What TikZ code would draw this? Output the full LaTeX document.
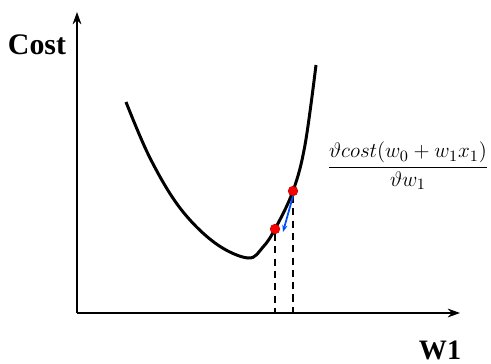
\documentclass[tikz,border=0pt]{standalone}
\usepackage{amsmath}
\usepackage{fontspec}
\setmainfont{Liberation Serif}
\usepackage{tikz}
\usetikzlibrary{arrows.meta, positioning}

\tikzset{
    axis/.style={line width=0.9pt, -{Stealth[length=7pt,width=5pt]}},
    drop/.style={dashed, line width=0.8pt, dash pattern=on 4pt off 3pt},
    dot/.style={circle, fill=red, draw=red!70!black, line width=0.3pt, inner sep=0pt, minimum size=5.5pt}
}

\begin{document}
\begin{tikzpicture}[x=0.02cm, y=-0.02cm]
    \useasboundingbox (0,0) rectangle (491,363);
    % axes
    \coordinate (o) at (77,313);
    \coordinate (ytop) at (77,12);
    \coordinate (xend) at (460,313);
    \draw[axis] (o) -- (ytop);
    \draw[axis] (o) -- (xend);
    \node[font=\fontsize{17}{20}\selectfont\bfseries] (cost) at (37,45) {Cost};
    \node[font=\fontsize{16}{19}\selectfont\bfseries, inner sep=0pt] (w1) at (440,350) {W1};
    % cost curve
    \draw[line width=1.7pt] plot[smooth, tension=0.6] coordinates
        {(126,102) (150,158) (180,208) (215,243) (248,258) (263,247) (275,229) (293,191) (305,145) (316,65)};
    % the two points
    \node[dot] (p1) at (275,229) {};
    \node[dot] (p2) at (293,191) {};
    \coordinate (f1) at (275,313);
    \coordinate (f2) at (293,313);
    \draw[drop] (p1) -- (f1);
    \draw[drop] (p2) -- (f2);
    \draw[blue!70!cyan, line width=1pt, -{Stealth[length=4pt,width=3pt]}] (p2.south) -- (283,232);
    % slope
    \node[font=\fontsize{13}{15}\selectfont] (slope) at (408,166)
        {$\dfrac{\vartheta cost(w_0+w_1x_1)}{\vartheta w_1}$};
\end{tikzpicture}
\end{document}
